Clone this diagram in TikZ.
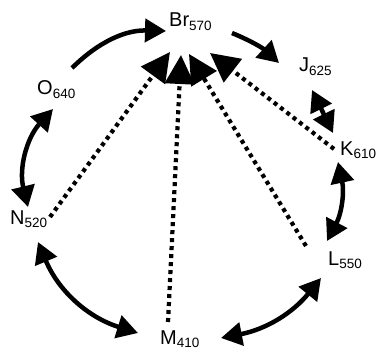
\documentclass[tikz,border=0pt]{standalone}
\usepackage{fontspec}
\setmainfont{Liberation Sans}
\usetikzlibrary{arrows.meta,calc}
\newcommand\lbl[2]{\fontsize{20}{20}\selectfont #1\raisebox{-3.5pt}{\fontsize{13.5}{13.5}\selectfont #2}}
\begin{document}
\begin{tikzpicture}[x=1pt,y=-1pt,
  lab/.style={anchor=base west, inner sep=0pt},
  flow/.style={line width=4.5pt, -{Triangle[length=21pt,width=23pt]}},
  flowboth/.style={line width=4.5pt, {Triangle[length=21pt,width=23pt]}-{Triangle[length=21pt,width=23pt]}},
  back/.style={line width=4.2pt, dash pattern=on 4pt off 4pt, -{Triangle[length=29pt,width=29pt]}}]
\fill[white] (0,0) rectangle (377,350);
\useasboundingbox (0,0) rectangle (377,350);

\node[lab] (Br) at (169,27) {\lbl{Br}{570}};
\node[lab] (J) at (299,72) {\lbl{J}{625}};
\node[lab] (K) at (340,155) {\lbl{K}{610}};
\node[lab] (L) at (328,265) {\lbl{L}{550}};
\node[lab] (M) at (160,344) {\lbl{M}{410}};
\node[lab] (N) at (10,224) {\lbl{N}{520}};
\node[lab] (O) at (37,95) {\lbl{O}{640}};

% photocycle
\draw[flow] ($(O.base west)+(35,-27)$) to[bend left=23] ($(Br.base west)+(-3,4)$);
\draw[flow] ($(Br.base west)+(63,6)$) to[bend left=10] ($(J.base west)+(-20,-9)$);
\draw[flowboth] ($(J.base west)+(13,18)$) -- ($(K.base west)+(-7,-22)$);
\draw[flowboth] ($(K.base west)+(-2,7)$) to[bend left=20] ($(L.base west)+(-1,-24)$);
\draw[flowboth] ($(L.base west)+(-7,13)$) to[bend left=20] ($(M.base west)+(61,-6)$);
\draw[flowboth] ($(N.base west)+(28,18)$) to[bend right=25] ($(M.base west)+(-22,-11)$);
\draw[flowboth] ($(O.base west)+(16,14)$) to[bend right=28] ($(N.base west)+(18,-17)$);

% back reactions
\draw[back] ($(N.base west)+(40,-7)$) -- ($(Br.base west)+(1,25)$);
\draw[back] ($(M.base west)+(8,-22)$) -- ($(Br.base west)+(12,28)$);
\draw[back] ($(L.base west)+(-22,-19)$) -- ($(Br.base west)+(20,27)$);
\draw[back] ($(K.base west)+(-6,-6)$) -- ($(Br.base west)+(41,26)$);
\end{tikzpicture}
\end{document}
